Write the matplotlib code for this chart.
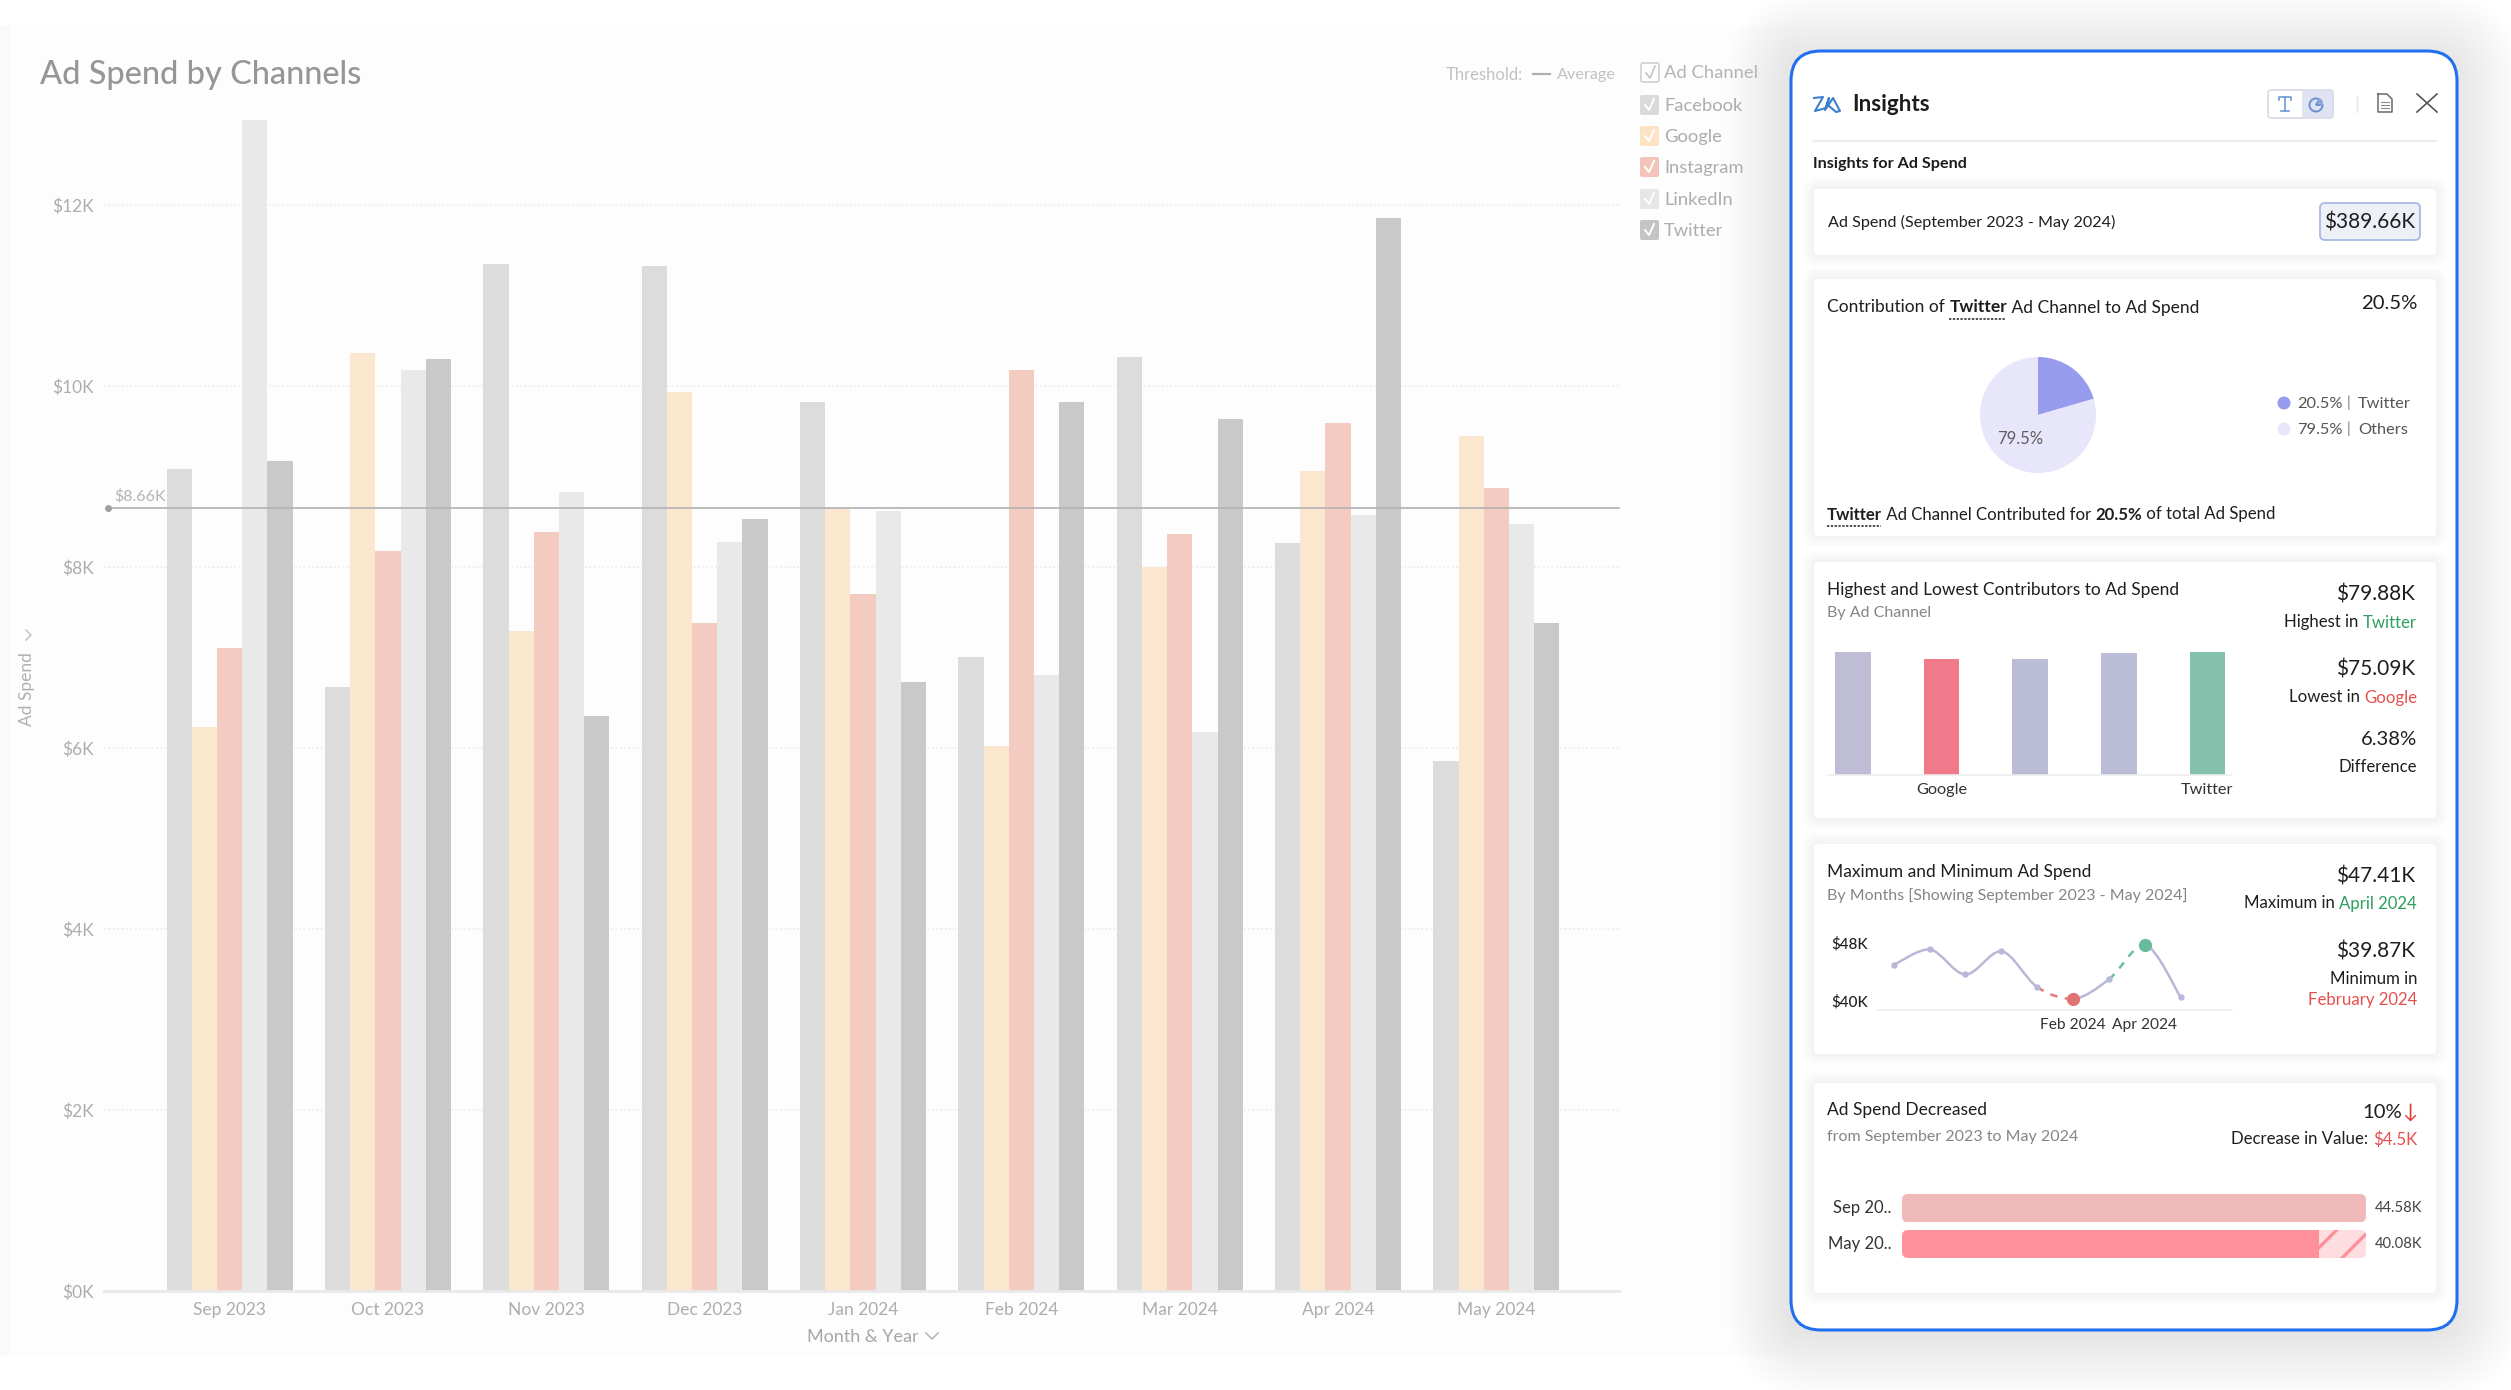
import matplotlib
matplotlib.use("Agg")
import matplotlib.pyplot as plt
from matplotlib.patches import FancyBboxPatch, Rectangle, Circle, PathPatch, Wedge
from matplotlib.path import Path
import numpy as np

plt.rcParams['font.family'] = ['Lato', 'DejaVu Sans']
plt.rcParams['hatch.linewidth'] = 2.4

# ---------------- data ----------------
months = ["Sep 2023", "Oct 2023", "Nov 2023", "Dec 2023", "Jan 2024", "Feb 2024", "Mar 2024", "Apr 2024", "May 2024"]
channels = ["Facebook", "Google", "Instagram", "LinkedIn", "Twitter"]
facebook = [9.08, 6.67, 11.35, 11.33, 9.82, 7.01, 10.32, 8.27, 5.86]
google = [6.23, 10.37, 7.29, 9.93, 8.65, 6.02, 8.00, 9.06, 9.45]
instagram = [7.10, 8.18, 8.39, 7.38, 7.70, 10.18, 8.37, 9.59, 8.87]
linkedin = [12.94, 10.18, 8.83, 8.28, 8.62, 6.81, 6.18, 8.57, 8.48]
twitter = [9.17, 10.30, 6.35, 8.53, 6.73, 9.82, 9.63, 11.86, 7.38]
threshold = 8.66
y_ticks = [0, 2, 4, 6, 8, 10, 12]
y_tick_labels = ["$0K", "$2K", "$4K", "$6K", "$8K", "$10K", "$12K"]
pie_values = [20.5, 79.5]
contrib_values = [79.80, 75.09, 75.60, 79.29, 79.88]
contrib_labels = ["", "Google", "", "", "Twitter"]
monthly_total = [44.58, 46.75, 43.27, 46.50, 41.53, 39.87, 42.60, 47.41, 40.08]
compare_labels = ["Sep 20..", "May 20.."]
compare_values = [44.58, 40.08]

# ---------------- styles ----------------
W, H = 2511, 1390
bar_colors = ["#dcdcdc", "#fbe7cd", "#f3cbc0", "#e9e9e9", "#c9c9c9"]
DARK = "#1e1e1e"
MID = "#858585"
GREEN = "#2f9e5f"
RED = "#e5504e"
PERIOD = 158.35
FIRST = 229.6
PER_K = 90.5

fig = plt.figure(figsize=(W / 100, H / 100), dpi=100, facecolor="white")

def px_axes(x0, y0, x1, y1, z=2):
    ax = fig.add_axes([x0 / W, 1 - y1 / H, (x1 - x0) / W, (y1 - y0) / H], zorder=z)
    ax.patch.set_alpha(0)
    return ax

bg = fig.add_axes([0, 0, 1, 1], zorder=0)
bg.set_xlim(0, W); bg.set_ylim(H, 0); bg.axis("off")
renderer = fig.canvas.get_renderer()
top = fig.add_axes([0, 0, 1, 1], zorder=10)
top.set_xlim(0, W); top.set_ylim(H, 0); top.axis("off"); top.patch.set_alpha(0)

def T(x, y, s, size=13, color=DARK, ha="left", va="center", weight="normal", **kw):
    return top.text(x, y + 1.5, s, fontsize=size, color=color, ha=ha, va=va, fontweight=weight, **kw)

def rich(x, y, parts, size=13, ha="left"):
    """parts: (text, color, weight, underline)"""
    arts = [T(0, y, p[0], size=size, color=p[1], weight=p[2]) for p in parts]
    widths = [a.get_window_extent(renderer).width for a in arts]
    cur = x - sum(widths) if ha == "right" else x
    for a, w, p in zip(arts, widths, parts):
        a.set_x(cur)
        if len(p) > 3 and p[3]:
            top.plot([cur, cur + w - 1], [y + 13, y + 13], color=DARK, lw=1.1, ls=(0, (1.5, 1)))
        cur += w

def rbox(x0, y0, x1, y1, r=6, fc="white", ec="none", lw=0, z=3, alpha=None):
    p = FancyBboxPatch((x0, y0), x1 - x0, y1 - y0, boxstyle=f"round,pad=0,rounding_size={r}",
                       fc=fc, ec=ec, lw=lw, zorder=z, alpha=alpha)
    bg.add_patch(p)
    return p

# page backdrop
bg.add_patch(Rectangle((0, 25), 1800, 1331, fc="#fdfdfd", ec="none", zorder=0))
bg.add_patch(Rectangle((0, 25), 10, 1331, fc="#fafafa", ec="none", zorder=0))

# ---------------- main chart ----------------
ax = px_axes(104, 100, 1620, 1291, z=1)
bw = 25.2 / PERIOD
x = np.arange(len(months))
series = [facebook, google, instagram, linkedin, twitter]
for i, (vals, c) in enumerate(zip(series, bar_colors)):
    ax.bar(x + (i - 2) * bw, vals, width=bw, color=c, lw=0, zorder=2)
ax.set_xlim((104 - FIRST) / PERIOD, (1620 - FIRST) / PERIOD)
ax.set_ylim(0, 1191 / PER_K)
ax.set_yticks(y_ticks, y_tick_labels)
ax.set_xticks(x, months)
ax.tick_params(axis="both", length=0, labelsize=12.5, labelcolor="#adadad")
ax.tick_params(axis="y", pad=7)
ax.tick_params(axis="x", pad=8)
for s in ["top", "left", "right"]:
    ax.spines[s].set_visible(False)
ax.spines["bottom"].set_color("#e9e9e9")
ax.spines["bottom"].set_linewidth(2)
ax.set_axisbelow(True)
ax.yaxis.grid(True, color="#efefef", lw=1.3, ls=(0, (1.2, 1.2)))
ax.axhline(threshold - 0.01, xmin=(108 - 104) / (1620 - 104), color="#b4b4b4", lw=1.25, zorder=3)
ax.plot([(108 - FIRST) / PERIOD], [threshold - 0.01], "o", ms=4, color="#a0a0a0", zorder=4, clip_on=False)
T(114, 495, "$8.66K", size=11.5, color="#b4b4b4")

T(40, 73, "Ad Spend by Channels", size=23.4, color="#969696", weight="medium")
T(27, 688, "Ad Spend", size=12.5, color="#b0b0b0", rotation=90, ha="center")
top.plot([26, 31, 26], [630, 635, 640], color="#c4c4c4", lw=1.1)
T(863, 1335, "Month & Year", size=13, color="#a6a6a6", ha="center")
top.plot([926, 932, 938], [1333, 1339, 1333], color="#b4b4b4", lw=1.1)

T(1446, 74, "Threshold:", size=12, color="#c2c2c2")
top.plot([1533, 1550], [74, 74], color="#b0b0b0", lw=1.6)
T(1557, 74, "Average", size=11.7, color="#c2c2c2")

# legend check boxes
leg_y = [105, 136, 167, 199, 230]
rbox(1641, 63, 1659, 82, r=2, fc="white", ec="#d0d0d0", lw=1.2)
top.plot([1646, 1650, 1655], [73, 78, 66], color="#c4c4c4", lw=1.2)
T(1664, 72, "Ad Channel", size=13.2, color="#b4b4b4")
leg_colors = ["#dadada", "#fbe3c4", "#f3c4b8", "#e6e6e6", "#c4c4c4"]
for name, c, y in zip(channels, leg_colors, leg_y):
    rbox(1640, y - 10, 1659, y + 10, r=2, fc=c)
    top.plot([1645, 1649, 1654], [y, y + 5, y - 6], color="white", lw=1.4)
    T(1664, y - 0.5, name, size=13.2, color="#adadad")

# ---------------- insights panel ----------------
for k in range(1, 26):
    e = k * 2.6
    rbox(1791 - e, 51 - e + 4, 2457 + e, 1330 + e + 4, r=30 + e, fc="#4a5060", z=1.2, alpha=0.005)
rbox(1791, 51, 2457, 1330, r=30, fc="white", ec="#1f6fee", lw=2.2, z=2)

# zia logo
top.plot([1814, 1823, 1815, 1826, 1829, 1825, 1833, 1840, 1836, 1829],
         [98, 97, 111, 108, 98, 110, 98, 111, 112, 106], color="#3c7fcb", lw=1.5)
T(1852, 103, "Insights", size=16.2, color="#1c1c1c", weight="bold")

rbox(2268, 90, 2333, 118, r=3, fc="white", ec="#d6d9e6", lw=1.2)
bg.add_patch(Rectangle((2302, 91), 30, 26, fc="#dfe3f3", ec="none", zorder=4))
top.plot([2279, 2279, 2291, 2291], [100, 97, 97, 100], color="#6d9ad4", lw=1.2)
top.plot([2285, 2285], [97, 111], color="#6d9ad4", lw=1.2)
top.plot([2281, 2289], [111, 111], color="#6d9ad4", lw=1.2)
top.add_patch(Wedge((2316, 105), 6.5, 0, 300, fc="none", ec="#6c8fd0", lw=1.4))
top.add_patch(Wedge((2318, 103), 5, -90, 45, fc="#8aa5d8", ec="none"))
top.plot([2357, 2357], [96, 112], color="#e8e8e8", lw=1)
top.plot([2378, 2387, 2392, 2392, 2378, 2378], [94, 94, 99, 112, 112, 94], color="#6a6a6a", lw=1.1)
for yy in (102, 105, 108):
    top.plot([2381, 2389], [yy, yy], color="#8a8a8a", lw=0.8)
top.plot([2417, 2437], [94, 112], color="#555555", lw=1.2)
top.plot([2437, 2417], [94, 112], color="#555555", lw=1.2)
bg.plot([1813, 2436], [141, 141], color="#eeeeee", lw=1.6, zorder=5)

T(1813, 162.5, "Insights for Ad Spend", size=11.6, color="#1c1c1c", weight="bold")

# cards
cards = [(189, 255), (279, 536), (562, 818), (844, 1054), (1083, 1293)]
for y0, y1 in cards:
    for k in range(1, 7):
        rbox(1814 - k * 2, y0 - k * 2, 2436 + k * 2, y1 + k * 2, r=4 + k * 2, fc="#60687a", z=2.5, alpha=0.006)
    rbox(1814, y0, 2436, y1, r=4, fc="white", z=3)

TITLE = 12.55
SUB = 11.5
BODY = 12.1
BIG = 15

# card 1
T(1828, 221, "Ad Spend (September 2023 - May 2024)", size=11.6)
rbox(2320, 203, 2420, 240, r=5, fc="#eef0f8", ec="#a9b9e2", lw=1.3, z=4)
T(2370, 221, "$389.66K", size=BIG, ha="center")

# card 2
rich(1827, 306, [("Contribution of ", DARK, "normal"), ("Twitter", DARK, "bold", True), (" Ad Channel to Ad Spend", DARK, "normal")], size=TITLE)
T(2417, 302, "20.5%", size=14.6, ha="right")
pie_ax = px_axes(1978, 355, 2098, 475, z=4)
pie_ax.pie(pie_values, colors=["#979bee", "#e7e6fb"], startangle=90, counterclock=False, radius=1.0,
           wedgeprops=dict(lw=0))
pie_ax.set_xlim(-60 / 58, 60 / 58); pie_ax.set_ylim(-60 / 58, 60 / 58)
T(2020, 438, "79.5%", size=12, color="#5f5f5f", ha="center")
top.add_patch(Circle((2284, 403), 6.5, fc="#979bee", ec="none"))
top.add_patch(Circle((2284, 429), 6.5, fc="#e7e6fb", ec="none"))
for yy, a, b in [(403, "20.5%", "Twitter"), (429, "79.5%", "Others")]:
    T(2297, yy - 1, a, size=11.8, color="#555555")
    T(2348, yy - 2, "|", size=11, color="#777777", ha="center")
    T(2358, yy - 1, b, size=11.8, color="#555555")
rich(1827, 513, [("Twitter", DARK, "bold", True), (" Ad Channel Contributed for ", DARK, "normal"), ("20.5%", DARK, "bold"), (" of total Ad Spend", DARK, "normal")], size=BODY)

# card 3
T(1827, 588, "Highest and Lowest Contributors to Ad Spend", size=TITLE)
T(1827, 612, "By Ad Channel", size=SUB, color=MID)
T(2415, 593, "$79.88K", size=BIG, ha="right")
rich(2417, 621, [("Highest in ", DARK, "normal"), ("Twitter", GREEN, "normal")], size=BODY, ha="right")
T(2415, 668, "$75.09K", size=BIG, ha="right")
rich(2417, 696, [("Lowest in ", DARK, "normal"), ("Google", RED, "normal")], size=BODY, ha="right")
T(2417, 738, "6.38%", size=14.6, ha="right")
T(2417, 765, "Difference", size=BODY, ha="right")

cb_ax = px_axes(1828, 640, 2232, 775, z=4)
cb_x = np.arange(len(contrib_values))
cb_colors = ["#bfbdd6", "#f07a8a", "#bbbdd6", "#bbbdd6", "#84c1ad"]
cb_ax.bar(cb_x, contrib_values, width=0.4, color=cb_colors, lw=0)
cb_ax.set_xlim((1828 - 1853) / 88.6, (2232 - 1853) / 88.6)
cb_ax.set_ylim(0, 135 / 1.54)
cb_ax.set_yticks([])
cb_ax.set_xticks(cb_x, contrib_labels)
cb_ax.tick_params(axis="x", length=0, labelsize=11.7, labelcolor="#333333", pad=6)
for s in ["top", "left", "right"]:
    cb_ax.spines[s].set_visible(False)
cb_ax.spines["bottom"].set_color("#eeeeee")
cb_ax.spines["bottom"].set_linewidth(1.2)

# card 4
T(1827, 870, "Maximum and Minimum Ad Spend", size=TITLE)
T(1827, 894, "By Months [Showing September 2023 - May 2024]", size=SUB, color=MID)
T(2415, 875, "$47.41K", size=BIG, ha="right")
rich(2417, 902, [("Maximum in ", DARK, "normal"), ("April 2024", GREEN, "normal")], size=BODY, ha="right")
T(2415, 950, "$39.87K", size=BIG, ha="right")
T(2417, 978, "Minimum in", size=BODY, ha="right")
T(2417, 998, "February 2024", size=BODY, color=RED, ha="right")
T(1868, 943, "$48K", size=11, ha="right", weight="medium")
T(1868, 1001, "$40K", size=11, ha="right", weight="medium")

ln_ax = px_axes(1877, 930, 2232, 1010, z=4)
mx = np.arange(len(monthly_total), dtype=float)
my = np.array(monthly_total)
pts = np.column_stack([mx, my])
LINE = "#b9b8d8"
for i in range(len(pts) - 1):
    p0 = pts[max(i - 1, 0)]; p1 = pts[i]; p2 = pts[i + 1]; p3 = pts[min(i + 2, len(pts) - 1)]
    c1 = p1 + (p2 - p0) / 6
    c2 = p2 - (p3 - p1) / 6
    c1[1] = np.clip(c1[1], min(p1[1], p2[1]), max(p1[1], p2[1]))
    c2[1] = np.clip(c2[1], min(p1[1], p2[1]), max(p1[1], p2[1]))
    path = Path([p1, c1, c2, p2], [Path.MOVETO, Path.CURVE4, Path.CURVE4, Path.CURVE4])
    if i == 4:
        style = dict(ec="#e77b7b", ls=(0, (3, 3)))
    elif i == 6:
        style = dict(ec="#6cbfa0", ls=(0, (3, 3)))
    else:
        style = dict(ec=LINE, ls="-")
    ln_ax.add_patch(PathPatch(path, fc="none", lw=1.8, **style))
ln_ax.plot(mx, my, "o", ms=3.6, color="#b9b8d8", ls="none")
ln_ax.plot([5], [my[5]], "o", ms=8.5, color="#e27373")
ln_ax.plot([7], [my[7]], "o", ms=8.5, color="#66bb9d")
ln_ax.set_xlim((1877 - 1893.6) / 35.9, (2232 - 1893.6) / 35.9)
ln_ax.set_ylim(47.41 - (1010 - 944.5) / 7.23, 47.41 + (944.5 - 930) / 7.23)
ln_ax.set_yticks([])
ln_ax.set_xticks([5, 7], [months[5], months[7]])
ln_ax.tick_params(axis="x", length=0, labelsize=11.2, labelcolor="#333333", pad=6)
for s in ["top", "left", "right"]:
    ln_ax.spines[s].set_visible(False)
ln_ax.spines["bottom"].set_color("#eeeeee")
ln_ax.spines["bottom"].set_linewidth(1.2)

# card 5
T(1827, 1109, "Ad Spend Decreased", size=TITLE)
T(1827, 1135, "from September 2023 to May 2024", size=SUB, color=MID)
rich(2417, 1111, [("10%", DARK, "normal"), ("↓", "#e53935", "normal")], size=14.6, ha="right")
rich(2417, 1138, [("Decrease in Value: ", DARK, "normal"), ("$4.5K", RED, "normal")], size=BODY, ha="right")

pb_ax = px_axes(1902, 1194, 2366, 1258, z=4)
b1 = pb_ax.barh([0], [compare_values[0]], height=28.4 / 36, color="#f0b9b9", lw=0)
b2 = pb_ax.barh([1], [compare_values[1]], height=28 / 36, color="#fd9098", lw=0)
b3 = pb_ax.barh([1], [compare_values[0] - compare_values[1]], left=[compare_values[1]], height=28 / 36,
                color="#fddde0", edgecolor="#fd9098", hatch="/", lw=0)
pb_ax.axis("off")
pb_ax.set_xlim(0, compare_values[0]); pb_ax.set_ylim(1.389, -0.389)
for bars, (yy0, yy1) in ((b1, (1194, 1222.4)), (b2, (1230, 1258)), (b3, (1230, 1258))):
    clip = FancyBboxPatch((1902, yy0), 464, yy1 - yy0, boxstyle="round,pad=0,rounding_size=6",
                          transform=bg.transData, fc="none", ec="none")
    for b in bars:
        b.set_clip_path(clip)
for yy, lab, val in zip((1208, 1244), compare_labels, compare_values):
    T(1891, yy - 1, lab, size=12, color="#333333", ha="right")
    T(2375, yy - 2, f"{val:.2f}K", size=10.6, color="#444444")

fig.savefig("out.png", dpi=100, facecolor="white")
